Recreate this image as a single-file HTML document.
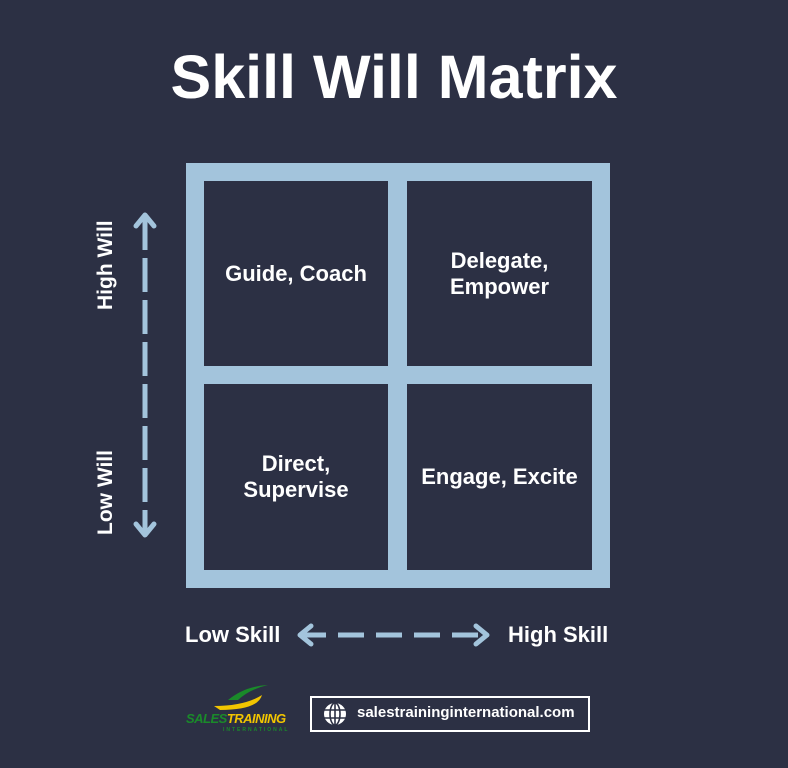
<!DOCTYPE html>
<html><head><style>
body{margin:0;width:788px;height:768px;background:#2c3044;overflow:hidden;font-family:"Liberation Sans",sans-serif;position:relative;color:#fff}
.t{position:absolute;font-weight:bold;white-space:nowrap}
.c{position:absolute;background:#2c3044;display:flex;align-items:center;justify-content:center;text-align:center;font-weight:bold;font-size:22px;line-height:26px;color:#fff}
</style></head><body>
<div class="t" style="left:0;width:788px;text-align:center;top:42px;font-size:61px">Skill Will Matrix</div>
<div style="position:absolute;left:186px;top:163px;width:424px;height:425px;background:#a3c4dc"></div>
<div class="c" style="left:204px;top:181px;width:184px;height:185px">Guide, Coach</div>
<div class="c" style="left:407px;top:181px;width:185px;height:185px">Delegate,<br>Empower</div>
<div class="c" style="left:204px;top:384px;width:184px;height:186px">Direct,<br>Supervise</div>
<div class="c" style="left:407px;top:384px;width:185px;height:186px">Engage, Excite</div>
<svg style="position:absolute;left:0;top:0" width="788" height="768">
<g stroke="#a3c4dc" stroke-width="5" fill="none" stroke-linecap="round" stroke-linejoin="round">
<line x1="145" y1="216" x2="145" y2="535" stroke-dasharray="34,8" stroke-linecap="butt"/>
<polyline points="136,226 145,215 154,226"/>
<polyline points="136,524 145,535 154,524"/>
<line x1="300" y1="635" x2="487" y2="635" stroke-dasharray="26,12" stroke-linecap="butt"/>
<polyline points="311,626 300,635 311,644"/>
<polyline points="476,626 487,635 476,644"/>
</g>
<path d="M228,700 Q245,686 268,685 Q250,689 238,700 Z" fill="#1a8a2a"/>
<path d="M214,706 Q245,706 262,695 Q258,710 220,710 Z" fill="#f2c500"/>
</svg>
<div class="t" style="font-size:21px;transform:rotate(-90deg);transform-origin:left top;left:94px;top:310px">High Will</div>
<div class="t" style="left:94px;top:535px;font-size:21px;transform:rotate(-90deg);transform-origin:left top">Low Will</div>
<div class="t" style="left:185px;top:622px;font-size:22px">Low Skill</div>
<div class="t" style="left:508px;top:622px;font-size:22px">High Skill</div>
<div class="t" style="left:186px;top:711px;font-size:13px;font-style:italic;color:#1a8a2a;letter-spacing:-0.5px">SALES<span style="color:#f2c500">TRAINING</span></div>
<div class="t" style="left:223px;top:727px;font-size:5px;color:#1a8a2a;letter-spacing:2px">INTERNATIONAL</div>
<div style="position:absolute;left:310px;top:696px;width:280px;height:36px;border:2px solid #fff;box-sizing:border-box"></div>
<svg style="position:absolute;left:323px;top:702px" width="24" height="24" viewBox="0 0 24 24"><circle cx="12" cy="12" r="11" fill="#fff"/><g stroke="#2c3044" stroke-width="1.6" fill="none"><ellipse cx="12" cy="12" rx="5" ry="11"/><line x1="12" y1="1" x2="12" y2="23"/><line x1="1" y1="8" x2="23" y2="8"/><line x1="1" y1="16" x2="23" y2="16"/></g></svg>
<div class="t" style="left:357px;top:704px;font-size:15px">salestraininginternational.com</div>
</body></html>
